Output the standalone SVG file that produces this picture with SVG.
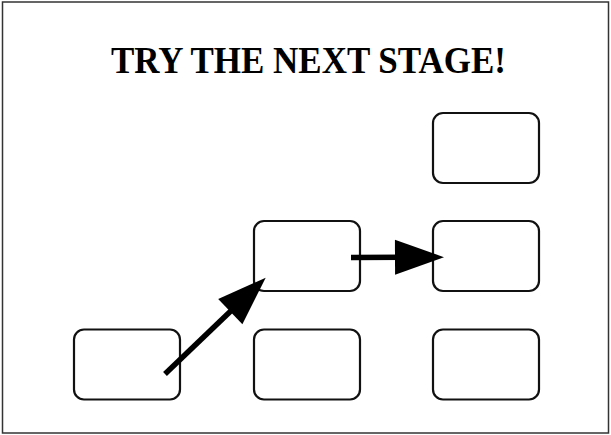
<svg xmlns="http://www.w3.org/2000/svg" width="611" height="435" viewBox="0 0 611 435">
<style>
.frame{fill:#fff;stroke:#333;stroke-width:1.5}
.node rect{fill:#fff;stroke:#111;stroke-width:2.2}
.conn line{stroke:#000;stroke-width:5.5}
.title{font-family:"Liberation Serif","Times New Roman",serif;font-weight:bold;font-size:37px;fill:#000}
</style>
<defs>
<marker id="ah" viewBox="0 0 49 35" refX="9" refY="17.5" markerWidth="49" markerHeight="35" markerUnits="userSpaceOnUse" orient="auto" overflow="visible">
<path d="M0,0 L49,17.5 L0,35 Z" fill="#000"/>
</marker>
</defs>
<rect class="frame" x="2.5" y="2" width="606" height="431"/>
<text class="title" x="308.5" y="73" text-anchor="middle" textLength="395" lengthAdjust="spacingAndGlyphs">TRY THE NEXT STAGE!</text>
<g id="node-top-right" class="node"><rect x="433" y="113" width="106" height="70" rx="10"/></g>
<g id="node-mid-center" class="node"><rect x="254" y="221" width="106" height="70" rx="10"/></g>
<g id="node-mid-right" class="node"><rect x="433" y="221" width="106" height="70" rx="10"/></g>
<g id="node-bottom-left" class="node"><rect x="74" y="329.5" width="106" height="70" rx="10"/></g>
<g id="node-bottom-center" class="node"><rect x="254" y="329.5" width="106" height="70" rx="10"/></g>
<g id="node-bottom-right" class="node"><rect x="433" y="329.5" width="106" height="70" rx="10"/></g>
<g id="connectors" class="conn">
<line x1="165" y1="374" x2="236.8" y2="305.3" marker-end="url(#ah)"/>
<line x1="351" y1="257.5" x2="404" y2="257.3" marker-end="url(#ah)"/>
</g>
</svg>
